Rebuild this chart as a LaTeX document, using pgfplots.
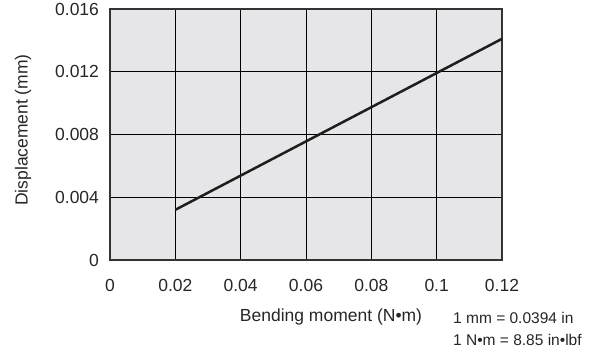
\documentclass[border=0pt]{standalone}
\usepackage{fontspec}
\setmainfont{Liberation Sans}
\usepackage{pgfplots}
\pgfplotsset{compat=1.18}
\definecolor{bgfill}{RGB}{230,230,232}
\definecolor{linec}{RGB}{30,30,30}
\begin{document}
\fontsize{17.5bp}{20bp}\selectfont
\begin{tikzpicture}[x=1bp,y=1bp]
\useasboundingbox (-110,-93) rectangle (483,260);
\begin{axis}[
  at={(0,0)}, anchor=south west,
  scale only axis, width=392bp, height=251bp,
  xmin=0, xmax=0.12, ymin=0, ymax=0.016,
  scaled ticks=false,
  xtick={0,0.02,0.04,0.06,0.08,0.1,0.12},
  xticklabels={0,0.02,0.04,0.06,0.08,0.1,0.12},
  ytick={0,0.004,0.008,0.012,0.016},
  yticklabels={0,0.004,0.008,0.012,0.016},
  major tick length=0pt,
  grid=major,
  major grid style={black, line width=0.8bp},
  axis line style={draw=black!80, line width=1.2bp},
  axis background/.style={fill=bgfill},
  tick label style={font=\fontsize{17.5bp}{20bp}\selectfont, text=black!85},
  xticklabel style={yshift=-13bp},
  yticklabel style={xshift=-5bp},
  clip=false,
]
\addplot[linec, line width=2.5bp] coordinates {(0.02,0.0032) (0.12,0.0141)};
\end{axis}
\node[text=black!85] at (221,-57) {Bending moment (N\textbullet m)};
\node[text=black!85, rotate=90] at (-87,130) {Displacement (mm)};
\node[text=black!85, anchor=base west, inner sep=0pt, font=\fontsize{15.5bp}{18bp}\selectfont] at (343,-63) {1 mm = 0.0394 in};
\node[text=black!85, anchor=base west, inner sep=0pt, font=\fontsize{15.5bp}{18bp}\selectfont] at (343,-85) {1 N\textbullet m = 8.85 in\textbullet lbf};
\end{tikzpicture}
\end{document}
